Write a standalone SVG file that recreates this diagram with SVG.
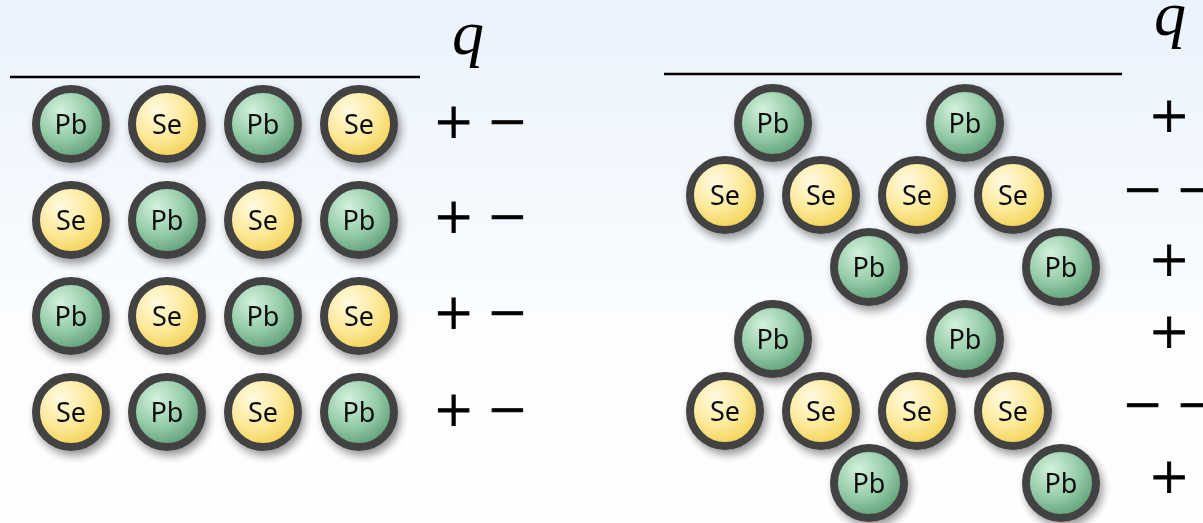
<svg xmlns="http://www.w3.org/2000/svg" width="1203" height="523" viewBox="0 0 1203 523">
<defs>
<linearGradient id="bg" x1="0" y1="0" x2="0" y2="1">
<stop offset="0" stop-color="#eaf2fc"/>
<stop offset="0.6" stop-color="#fbfdff"/>
<stop offset="1" stop-color="#ffffff"/>
</linearGradient>
<radialGradient id="gPb" cx="0.4" cy="0.35" r="0.7" fx="0.35" fy="0.3">
<stop offset="0" stop-color="#d4f1dd"/>
<stop offset="0.55" stop-color="#95cca8"/>
<stop offset="1" stop-color="#57996f"/>
</radialGradient>
<radialGradient id="gSe" cx="0.4" cy="0.35" r="0.7" fx="0.35" fy="0.3">
<stop offset="0" stop-color="#fffbe2"/>
<stop offset="0.55" stop-color="#fde99a"/>
<stop offset="1" stop-color="#f2cf4a"/>
</radialGradient>
<filter id="sh" x="-30%" y="-30%" width="170%" height="170%">
<feGaussianBlur in="SourceAlpha" stdDeviation="4"/>
<feOffset dx="3" dy="5" result="b"/>
<feComponentTransfer><feFuncA type="linear" slope="0.4"/></feComponentTransfer>
<feMerge><feMergeNode/><feMergeNode in="SourceGraphic"/></feMerge>
</filter>
<symbol id="Pb" overflow="visible">
<circle r="35" fill="url(#gPb)" stroke="#434343" stroke-width="8"/>
<text class="lbl" y="9.5">Pb</text>
</symbol>
<symbol id="Se" overflow="visible">
<circle r="35" fill="url(#gSe)" stroke="#434343" stroke-width="8"/>
<text class="lbl" y="9.5">Se</text>
</symbol>
</defs>
<style>
.lbl{font-family:"Noto Sans","Open Sans",sans-serif;font-size:27px;text-anchor:middle;fill:#111}
.sg{font-family:"Liberation Serif","Times New Roman",serif;font-size:66px;fill:#000;stroke:#000;stroke-width:0.8}
.q{font-family:"Liberation Serif","Times New Roman",serif;font-style:italic;font-size:64px;fill:#000}
.rule{stroke:#000;stroke-width:2.5}
.atom{filter:url(#sh)}
</style>
<rect width="1203" height="523" fill="url(#bg)"/>

<g id="headers">
<line class="rule" x1="10" y1="77" x2="420" y2="77"/>
<text class="q" x="452" y="54">q</text>
<line class="rule" x1="664" y1="74" x2="1122" y2="74"/>
<text class="q" x="1154" y="35">q</text>
</g>

<g id="left-lattice">
<g id="L11" class="atom"><use href="#Pb" x="71" y="124"/></g>
<g id="L12" class="atom"><use href="#Se" x="167" y="124"/></g>
<g id="L13" class="atom"><use href="#Pb" x="263" y="124"/></g>
<g id="L14" class="atom"><use href="#Se" x="359" y="124"/></g>
<g id="L21" class="atom"><use href="#Se" x="71" y="220"/></g>
<g id="L22" class="atom"><use href="#Pb" x="167" y="220"/></g>
<g id="L23" class="atom"><use href="#Se" x="263" y="220"/></g>
<g id="L24" class="atom"><use href="#Pb" x="359" y="220"/></g>
<g id="L31" class="atom"><use href="#Pb" x="71" y="316"/></g>
<g id="L32" class="atom"><use href="#Se" x="167" y="316"/></g>
<g id="L33" class="atom"><use href="#Pb" x="263" y="316"/></g>
<g id="L34" class="atom"><use href="#Se" x="359" y="316"/></g>
<g id="L41" class="atom"><use href="#Se" x="71" y="412"/></g>
<g id="L42" class="atom"><use href="#Pb" x="167" y="412"/></g>
<g id="L43" class="atom"><use href="#Se" x="263" y="412"/></g>
<g id="L44" class="atom"><use href="#Pb" x="359" y="412"/></g>
</g>

<g id="left-charges">
<text class="sg" x="435" y="144">+ −</text>
<text class="sg" x="435" y="239">+ −</text>
<text class="sg" x="435" y="335">+ −</text>
<text class="sg" x="435" y="432">+ −</text>
</g>

<g id="right-lattice">
<g id="R1a" class="atom"><use href="#Pb" x="773" y="123"/></g>
<g id="R1b" class="atom"><use href="#Pb" x="965" y="123"/></g>
<g id="R2a" class="atom"><use href="#Se" x="725" y="195"/></g>
<g id="R2b" class="atom"><use href="#Se" x="821" y="195"/></g>
<g id="R2c" class="atom"><use href="#Se" x="917" y="195"/></g>
<g id="R2d" class="atom"><use href="#Se" x="1013" y="195"/></g>
<g id="R3a" class="atom"><use href="#Pb" x="869" y="267"/></g>
<g id="R3b" class="atom"><use href="#Pb" x="1061" y="267"/></g>
<g id="R4a" class="atom"><use href="#Pb" x="773" y="339"/></g>
<g id="R4b" class="atom"><use href="#Pb" x="965" y="339"/></g>
<g id="R5a" class="atom"><use href="#Se" x="725" y="411"/></g>
<g id="R5b" class="atom"><use href="#Se" x="821" y="411"/></g>
<g id="R5c" class="atom"><use href="#Se" x="917" y="411"/></g>
<g id="R5d" class="atom"><use href="#Se" x="1013" y="411"/></g>
<g id="R6a" class="atom"><use href="#Pb" x="869" y="483"/></g>
<g id="R6b" class="atom"><use href="#Pb" x="1061" y="483"/></g>
</g>

<g id="right-charges">
<text class="sg" x="1169" y="138" text-anchor="middle">+</text>
<text class="sg" x="1124" y="212">− −</text>
<text class="sg" x="1169" y="282" text-anchor="middle">+</text>
<text class="sg" x="1169" y="354" text-anchor="middle">+</text>
<text class="sg" x="1124" y="427">− −</text>
<text class="sg" x="1169" y="499" text-anchor="middle">+</text>
</g>
</svg>
